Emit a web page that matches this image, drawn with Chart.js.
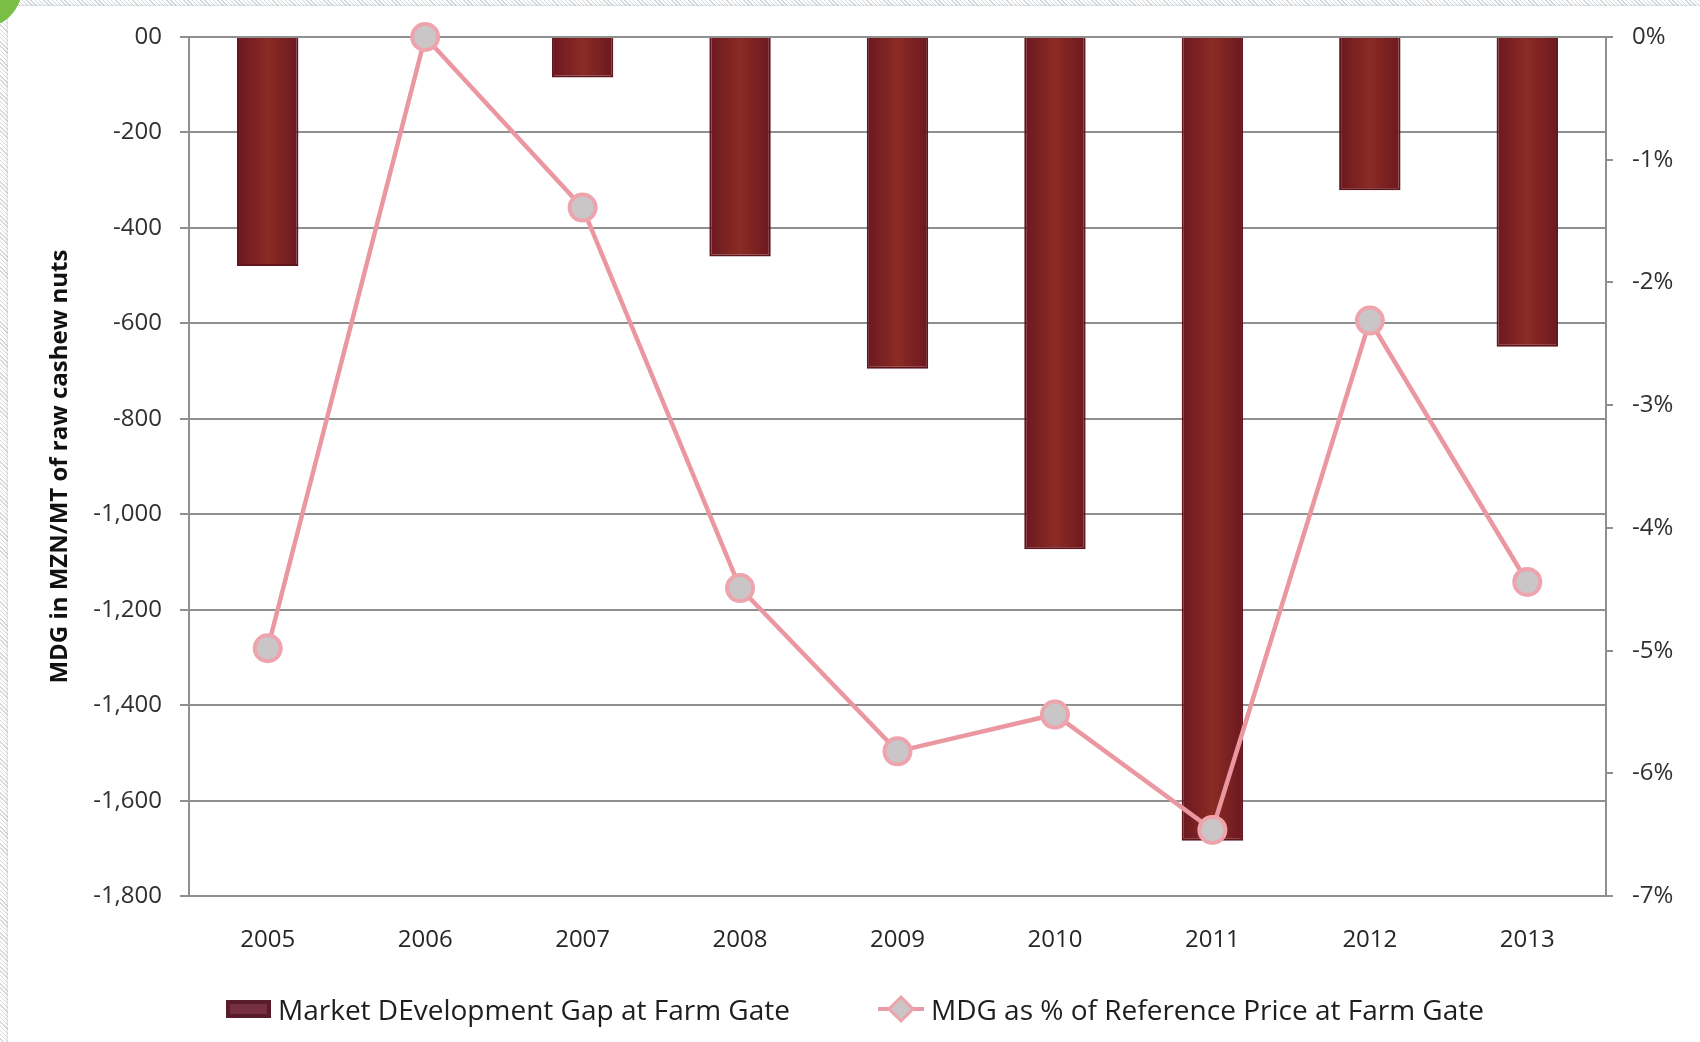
<!DOCTYPE html>
<html>
<head>
<meta charset="utf-8">
<script src="https://cdn.jsdelivr.net/npm/chart.js@4.4.0/dist/chart.umd.min.js"></script>
<style>
html, body { margin: 0; padding: 0; }
body {
    width: 1700px; height: 1042px; overflow: hidden; position: relative;
    background: repeating-linear-gradient(45deg, #ffffff 0 2px, #d3d8dc 2px 3px);
    font-family: 'Open Sans', sans-serif;
}
#panel { position: absolute; left: 8px; top: 6px; right: 0; bottom: 0; background: #fff; box-shadow: 0 0 3px #b9bec2; }
#leaf { position: absolute; left: -14px; top: -16px; width: 30px; height: 44px; background: #79bf45; border-radius: 0 0 70% 0; transform: rotate(25deg); }
#myChart { position: absolute; left: 0; top: 0; }
#legend { position: absolute; left: 226px; top: 990px; height: 38px; display: flex; align-items: center; font-size: 28px; color: #1e1e1e; white-space: nowrap; }
.item { display: flex; align-items: center; }
.item + .item { margin-left: 88px; }
.item canvas { margin-right: 7px; }
</style>
</head>
<body>
<div id="panel"></div>
<div id="leaf"></div>
<canvas id="myChart" width="1700" height="1042"></canvas>
<div id="legend"></div>
<script>
// data
const years = ['2005', '2006', '2007', '2008', '2009', '2010', '2011', '2012', '2013'];
const gapValues = [-480, 0, -85, -460, -695, -1073, -1684, -321, -649];
const pctValues = [-4.98, 0, -1.39, -4.49, -5.82, -5.52, -6.46, -2.31, -4.44];

const leftTickValues = [0, -200, -400, -600, -800, -1000, -1200, -1400, -1600, -1800];
const leftTickLabels = ['00', '-200', '-400', '-600', '-800', '-1,000', '-1,200', '-1,400', '-1,600', '-1,800'];
const rightTickValues = [0, -1, -2, -3, -4, -5, -6, -7];
const rightTickLabels = ['0%', '-1%', '-2%', '-3%', '-4%', '-5%', '-6%', '-7%'];

const barLabel = 'Market DEvelopment Gap at Farm Gate';
const lineLabel = 'MDG as % of Reference Price at Farm Gate';

const gridColor = '#8f8f8f';
const fontFamily = "'Open Sans', sans-serif";
const barPct = 0.39;

// legend markers
function legendBox() {
    const c = document.createElement('canvas');
    c.width = 45; c.height = 18;
    const g = c.getContext('2d');
    g.fillStyle = '#591c2a';
    g.fillRect(0, 0, 45, 18);
    g.fillStyle = '#763040';
    g.fillRect(4, 4, 37, 10);
    return c;
}
function legendLine() {
    const c = document.createElement('canvas');
    c.width = 46; c.height = 30;
    const g = c.getContext('2d');
    g.strokeStyle = '#eb9aa5';
    g.lineWidth = 4;
    g.beginPath(); g.moveTo(0, 15); g.lineTo(46, 15); g.stroke();
    g.beginPath();
    g.moveTo(23, 3); g.lineTo(35, 15); g.lineTo(23, 27); g.lineTo(11, 15); g.closePath();
    g.fillStyle = '#cbc5c7'; g.fill();
    g.lineWidth = 3; g.strokeStyle = '#eda3ac'; g.stroke();
    return c;
}

// darker edges, warmer middle, like the original bars
function barFill(context) {
    const chart = context.chart;
    const xs = chart.scales.x;
    if (!xs || context.dataIndex === undefined) return '#7b1f25';
    const cx = xs.getPixelForValue(context.dataIndex);
    const half = (xs.width / years.length) * barPct / 2;
    if (!isFinite(cx) || !half) return '#7b1f25';
    const g = chart.ctx.createLinearGradient(cx - half, 0, cx + half, 0);
    g.addColorStop(0, '#6c1820');
    g.addColorStop(0.5, '#8b2b24');
    g.addColorStop(1, '#6c1820');
    return g;
}

const htmlLegend = {
    id: 'htmlLegend',
    afterUpdate(chart) {
        const box = document.getElementById('legend');
        box.innerHTML = '';
        chart.data.datasets.forEach((ds, i) => {
            const item = document.createElement('div');
            item.className = 'item';
            item.appendChild(i === 0 ? legendBox() : legendLine());
            const t = document.createElement('span');
            t.textContent = ds.label;
            item.appendChild(t);
            box.appendChild(item);
        });
    },
};

const ctx = document.getElementById('myChart').getContext('2d');
const myChart = new Chart(ctx, {
    type: 'bar',
    data: {
        labels: years,
        datasets: [
            {
                label: barLabel,
                data: gapValues,
                yAxisID: 'y',
                backgroundColor: barFill,
                borderColor: '#5e161c',
                borderWidth: c => (c.raw === 0 ? 0 : 2),
                barPercentage: barPct,
                categoryPercentage: 1,
                order: 1,
            },
            {
                type: 'line',
                label: lineLabel,
                data: pctValues,
                yAxisID: 'y1',
                borderColor: '#eb97a2',
                borderWidth: 4.5,
                pointRadius: 13,
                pointBackgroundColor: '#cac6c7',
                pointBorderColor: '#eea4ad',
                pointBorderWidth: 4,
                tension: 0,
                clip: false,
                order: 0,
            },
        ],
    },
    plugins: [htmlLegend],
    options: {
        responsive: false,
        animation: false,
        devicePixelRatio: 1,
        layout: { padding: { left: 8, top: 37, right: 0, bottom: 65 } },
        plugins: {
            tooltip: { enabled: false },
            legend: { display: false },
        },
        scales: {
            x: {
                offset: true,
                grid: { display: false },
                border: { display: true, color: gridColor, width: 2 },
                ticks: { font: { family: fontFamily, size: 24 }, color: '#262626', padding: 22 },
            },
            y: {
                position: 'left',
                min: -1800,
                max: 0,
                ticks: {
                    stepSize: 200,
                    padding: 18,
                    font: { family: fontFamily, size: 24 },
                    color: '#303030',
                    callback: v => leftTickLabels[leftTickValues.indexOf(v)],
                },
                grid: { color: gridColor, lineWidth: 2, tickLength: 9 },
                border: { color: gridColor, width: 2 },
                title: {
                    display: true,
                    text: 'MDG in MZN/MT of raw cashew nuts',
                    font: { family: fontFamily, size: 24, weight: 'bold' },
                    color: '#111',
                    padding: { top: 38, bottom: 0 },
                },
                afterFit: s => { s.width = 181; },
            },
            y1: {
                position: 'right',
                min: -7,
                max: 0,
                ticks: {
                    stepSize: 1,
                    padding: 19,
                    font: { family: fontFamily, size: 24 },
                    color: '#303030',
                    callback: v => rightTickLabels[rightTickValues.indexOf(v)],
                },
                grid: { drawOnChartArea: false, color: gridColor, lineWidth: 2, tickLength: 7 },
                border: { color: gridColor, width: 2 },
                afterFit: s => { s.width = 94; },
            },
        },
    },
});
</script>
</body>
</html>
